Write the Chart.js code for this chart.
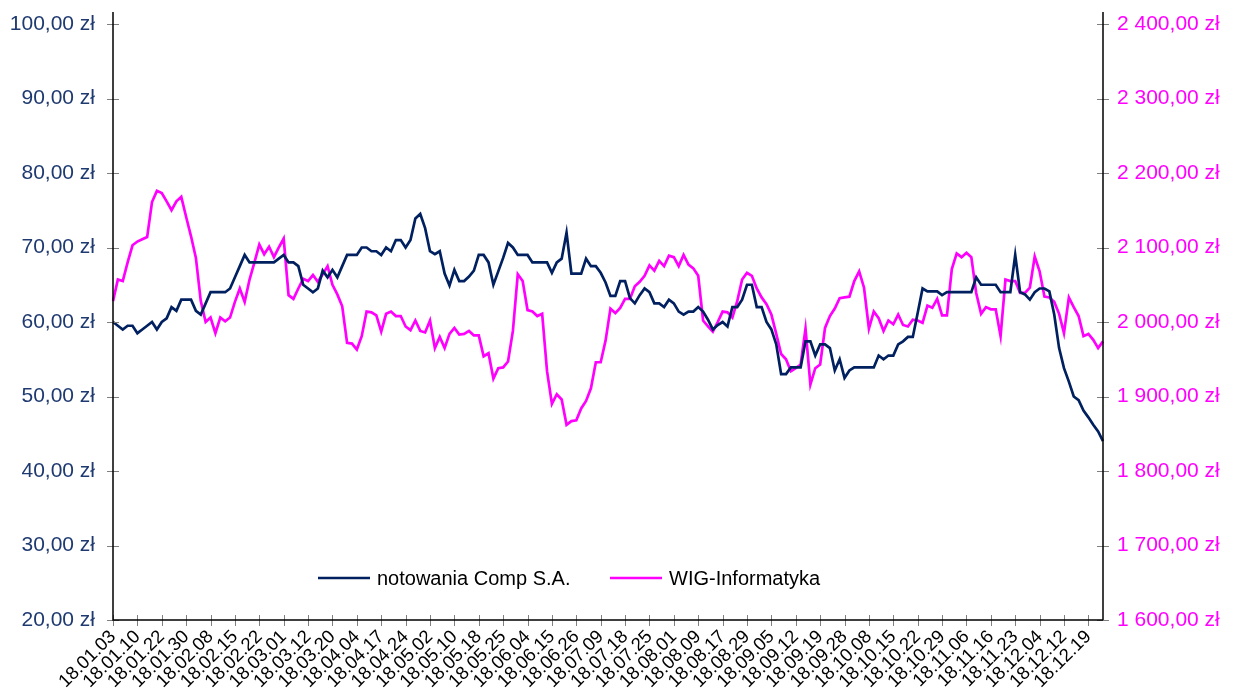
<!DOCTYPE html>
<html>
<head>
<meta charset="utf-8">
<script src="https://cdn.jsdelivr.net/npm/chart.js@4/dist/chart.umd.min.js"></script>
<style>
html,body{margin:0;padding:0;background:#fff;}
#wrap{width:1240px;height:688px;position:relative;}
</style>
</head>
<body>
<div id="wrap"><canvas id="c" width="1240" height="688"></canvas></div>
<script>
const tickLabels = ["18.01.03","18.01.10","18.01.22","18.01.30","18.02.08","18.02.15","18.02.22","18.03.01","18.03.12","18.03.20","18.04.04","18.04.17","18.04.24","18.05.02","18.05.10","18.05.18","18.05.25","18.06.04","18.06.15","18.06.26","18.07.09","18.07.18","18.07.25","18.08.01","18.08.09","18.08.17","18.08.29","18.09.05","18.09.12","18.09.19","18.09.28","18.10.08","18.10.15","18.10.22","18.10.29","18.11.06","18.11.16","18.11.23","18.12.04","18.12.12","18.12.19"];

const compPrices = [
60.0,59.5,59.0,59.5,59.5,58.5,59.0,59.5,60.0,59.0,
60.0,60.5,62.0,61.5,63.0,63.0,63.0,61.5,61.0,62.5,
64.0,64.0,64.0,64.0,64.5,66.0,67.5,69.0,68.0,68.0,
68.0,68.0,68.0,68.0,68.5,69.0,68.0,68.0,67.5,65.0,
64.5,64.0,64.5,66.9,66.0,67.0,66.0,67.5,69.0,69.0,
69.0,70.0,70.0,69.5,69.5,69.0,70.0,69.5,71.0,71.0,
70.0,71.0,73.9,74.5,72.6,69.5,69.1,69.5,66.5,64.9,
67.0,65.5,65.5,66.1,66.9,69.0,69.0,68.0,65.0,66.8,
68.6,70.6,70.0,69.0,69.0,69.0,68.0,68.0,68.0,68.0,
66.6,68.0,68.5,72.0,66.5,66.5,66.5,68.5,67.5,67.5,
66.6,65.3,63.5,63.5,65.5,65.5,63.2,62.5,63.6,64.5,
64.0,62.5,62.5,62.0,63.0,62.5,61.4,61.0,61.4,61.4,
62.0,61.4,60.3,59.0,59.6,60.0,59.4,62.0,62.0,63.0,
65.0,65.0,62.0,62.0,60.0,59.0,57.0,53.0,53.0,53.9,
53.9,53.9,57.4,57.4,55.5,57.0,57.0,56.5,53.5,55.0,
52.5,53.5,53.9,53.9,53.9,53.9,53.9,55.5,55.0,55.5,
55.5,57.0,57.4,58.0,58.0,61.2,64.5,64.1,64.1,64.1,
63.6,64.0,64.0,64.0,64.0,64.0,64.0,66.0,65.0,65.0,
65.0,65.0,64.0,64.0,64.0,69.0,64.0,63.7,63.0,64.0,
64.5,64.5,64.1,61.0,56.5,53.8,52.0,50.0,49.5,48.1,
47.2,46.2,45.3,44.0
];

const wigInformatyka = [
2028,2057,2055,2080,2103,2108,2111,2114,2161,2176,
2173,2162,2150,2162,2168,2141,2115,2086,2028,2000,
2006,1985,2006,2001,2006,2027,2045,2027,2057,2080,
2104,2091,2101,2087,2100,2112,2036,2031,2045,2058,
2055,2063,2054,2064,2075,2050,2037,2021,1972,1971,
1963,1981,2014,2013,2009,1987,2011,2014,2008,2008,
1994,1989,2002,1988,1986,2002,1965,1980,1965,1984,
1992,1983,1984,1988,1982,1982,1954,1958,1924,1938,
1939,1947,1988,2064,2055,2016,2014,2008,2011,1934,
1890,1903,1896,1862,1867,1868,1884,1894,1911,1946,
1946,1975,2018,2012,2019,2031,2031,2048,2054,2062,
2076,2069,2082,2075,2089,2087,2075,2090,2077,2072,
2062,2002,1994,1987,2000,2014,2013,2006,2028,2057,
2066,2062,2045,2033,2024,2010,1984,1957,1950,1934,
1938,1943,1991,1916,1938,1943,1992,2008,2018,2032,
2033,2034,2055,2068,2046,1991,2014,2005,1988,2002,
1997,2010,1996,1994,2003,2002,1999,2022,2019,2031,
2009,2009,2071,2092,2087,2093,2087,2039,2011,2020,
2017,2017,1981,2057,2055,2055,2039,2039,2046,2088,
2068,2034,2033,2027,2011,1985,2033,2020,2008,1981,
1984,1976,1965,1974
];

const seriesNames = ["notowania Comp S.A.", "WIG-Informatyka"];
const LABEL_EVERY = 5;
const categories = compPrices.map((_, i) => (i % LABEL_EVERY === 0 && tickLabels[i / LABEL_EVERY]) ? tickLabels[i / LABEL_EVERY] : '');

const FONT = "'Liberation Sans', Arial, sans-serif";
const NAVY = '#002060';
const MAGENTA = '#ff00ff';

function fmtPL(v) {
  const s = Math.abs(v).toFixed(2);
  let [ip, dp] = s.split('.');
  ip = ip.replace(/\B(?=(\d{3})+(?!\d))/g, ' ');
  return (v < 0 ? '-' : '') + ip + ',' + dp + ' zł';
}

const crossTicks = {
  id: 'crossTicks',
  afterDraw(chart) {
    const ctx = chart.ctx;
    const x = chart.scales.x, yl = chart.scales.y, yr = chart.scales.y2;
    const ca = chart.chartArea;
    ctx.save();
    ctx.strokeStyle = '#7f7f7f';
    ctx.lineWidth = 1;
    ctx.beginPath();
    for (let i = 0; i < categories.length; i += LABEL_EVERY) {
      const px = Math.round(x.getPixelForValue(i)) + 0.5;
      ctx.moveTo(px, ca.bottom - 5);
      ctx.lineTo(px, ca.bottom + 6);
    }
    yl.ticks.forEach(t => {
      const py = Math.round(yl.getPixelForValue(t.value)) + 0.5;
      ctx.moveTo(ca.left - 6, py); ctx.lineTo(ca.left + 6, py);
    });
    yr.ticks.forEach(t => {
      const py = Math.round(yr.getPixelForValue(t.value)) + 0.5;
      ctx.moveTo(ca.right - 6, py); ctx.lineTo(ca.right + 6, py);
    });
    ctx.stroke();
    ctx.strokeStyle = '#000';
    ctx.lineWidth = 1.5;
    ctx.beginPath();
    ctx.moveTo(ca.left, ca.top - 12); ctx.lineTo(ca.left, ca.bottom);
    ctx.lineTo(ca.right, ca.bottom);
    ctx.moveTo(ca.right, ca.top - 12); ctx.lineTo(ca.right, ca.bottom);
    ctx.stroke();
    const ly = ca.bottom - 42;
    const items = [
      {x: ca.left + 205, color: chart.data.datasets[0].borderColor, text: chart.data.datasets[0].label},
      {x: ca.left + 497, color: chart.data.datasets[1].borderColor, text: chart.data.datasets[1].label}
    ];
    ctx.font = '20px ' + FONT;
    ctx.textBaseline = 'middle';
    ctx.textAlign = 'left';
    items.forEach(it => {
      ctx.strokeStyle = it.color;
      ctx.lineWidth = 2.5;
      ctx.beginPath();
      ctx.moveTo(it.x, ly); ctx.lineTo(it.x + 52, ly);
      ctx.stroke();
      ctx.fillStyle = '#000';
      ctx.fillText(it.text, it.x + 59, ly + 1);
    });
    ctx.restore();
  }
};

function fixY(width) {
  return s => { s.width = width; s.paddingTop = 0; s.paddingBottom = 0; };
}

new Chart(document.getElementById('c'), {
  type: 'line',
  data: {
    labels: categories,
    datasets: [
      {label: seriesNames[0], data: compPrices, yAxisID: 'y', borderColor: NAVY, backgroundColor: NAVY, borderWidth: 2.7, pointRadius: 0, tension: 0},
      {label: seriesNames[1], data: wigInformatyka, yAxisID: 'y2', borderColor: MAGENTA, backgroundColor: MAGENTA, borderWidth: 2.7, pointRadius: 0, tension: 0}
    ]
  },
  options: {
    responsive: false,
    animation: false,
    layout: {padding: {top: 24, left: 0, right: 0, bottom: 0}},
    plugins: {legend: {display: false}, tooltip: {enabled: false}},
    scales: {
      x: {
        type: 'category',
        offset: false,
        grid: {display: false, drawTicks: false},
        border: {display: false},
        ticks: {
          autoSkip: false, maxRotation: 45, minRotation: 45, padding: 6,
          color: '#000', font: {family: FONT, size: 18.5},
          callback: (v, i) => categories[i]
        },
        afterFit: s => { s.height = 68; s.paddingLeft = 0; s.paddingRight = 0; }
      },
      y: {
        position: 'left', min: 20, max: 100,
        grid: {display: false, drawTicks: false},
        border: {display: false},
        ticks: {stepSize: 10, padding: 18, color: '#1f3a70', font: {family: FONT, size: 21}, callback: v => fmtPL(v)},
        afterFit: fixY(113)
      },
      y2: {
        position: 'right', min: 1600, max: 2400,
        grid: {display: false, drawTicks: false},
        border: {display: false},
        ticks: {stepSize: 100, padding: 14, color: MAGENTA, font: {family: FONT, size: 21}, callback: v => fmtPL(v)},
        afterFit: fixY(137)
      }
    }
  },
  plugins: [crossTicks]
});
</script>
</body>
</html>
